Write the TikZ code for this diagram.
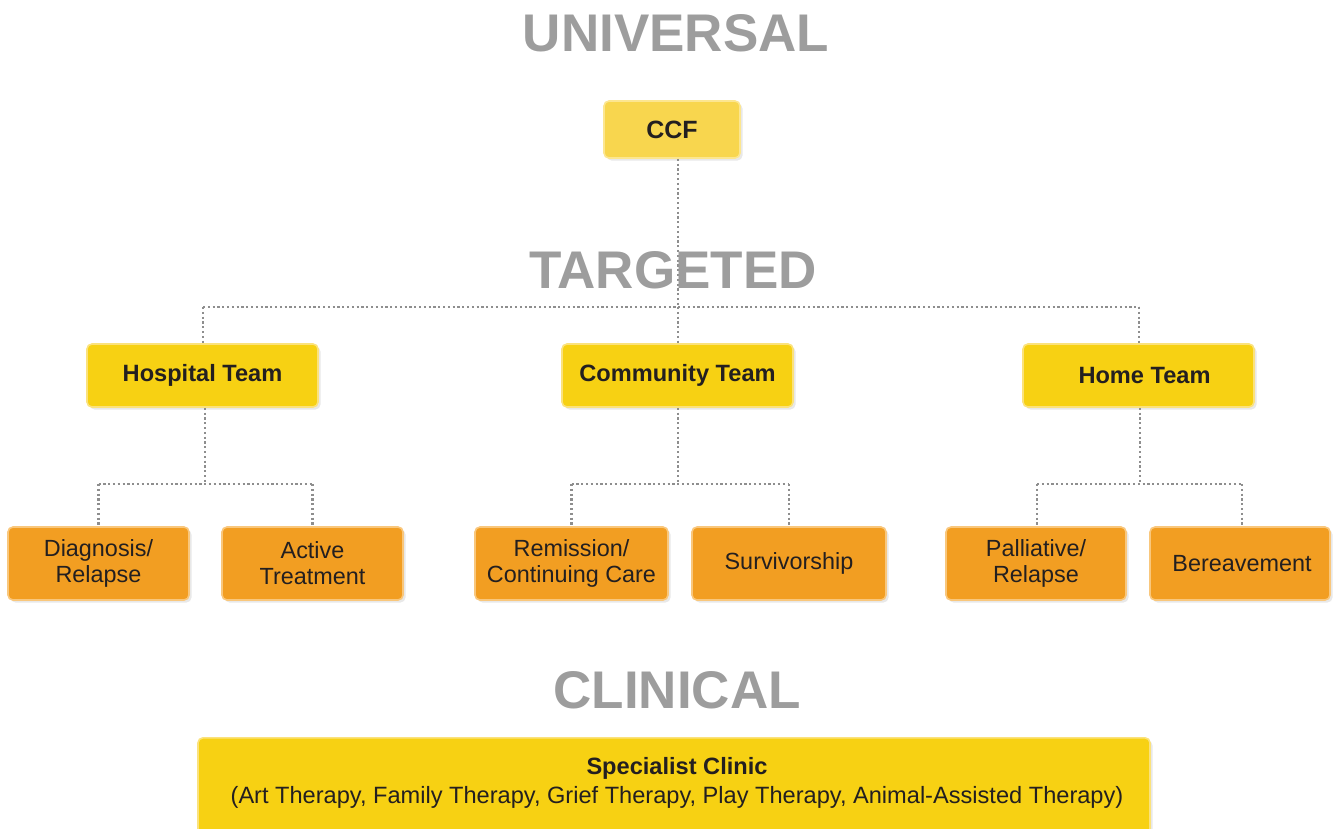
\documentclass[tikz,border=0pt]{standalone}
\usepackage{fontspec}
\setmainfont{Liberation Sans}
\usetikzlibrary{shadows}
\definecolor{headgray}{HTML}{9D9D9D}
\definecolor{ccffill}{HTML}{F8D64E}
\definecolor{ccfline}{HTML}{FCE690}
\definecolor{teamfill}{HTML}{F7D113}
\definecolor{teamline}{HTML}{FBE27C}
\definecolor{orfill}{HTML}{F29E22}
\definecolor{orline}{HTML}{F9C77C}
\definecolor{txt}{HTML}{231F20}
\definecolor{conn}{HTML}{8E8E8E}
\tikzset{
  heading/.style={text=headgray, font=\fontsize{53}{53}\selectfont\bfseries, inner sep=0},
  boxbase/.style={rounded corners=5pt, line width=1.6pt, text=txt, align=center, inner sep=0,
     drop shadow={opacity=0.18, shadow xshift=2.5pt, shadow yshift=-2.5pt}},
  ccfbox/.style={boxbase, fill=ccffill, draw=ccfline, minimum width=136, minimum height=57,
     font=\fontsize{25}{28}\selectfont\bfseries},
  teambox/.style={boxbase, fill=teamfill, draw=teamline, minimum width=231, minimum height=63,
     font=\fontsize{23.6}{26}\selectfont\bfseries},
  phasebox/.style={boxbase, fill=orfill, draw=orline, minimum height=73,
     font=\fontsize{23.4}{26}\selectfont},
  clinicbox/.style={boxbase, fill=teamfill, draw=teamline, minimum width=952, minimum height=110},
  cliniclabel/.style={text=txt, align=center, inner sep=0, font=\fontsize{23.6}{29}\selectfont},
  link/.style={draw=conn, line width=2.2pt, dash pattern=on 2.2pt off 2.6pt}
}
\begin{document}
\begin{tikzpicture}[x=1pt,y=-1pt]
\useasboundingbox (0,0) rectangle (1336,828);
% junction coordinates
\coordinate (jt) at (678,307);
\coordinate (jtl) at (203,307);
\coordinate (jtr) at (1139,307);
\coordinate (jh) at (205,484);
\coordinate (jc) at (678,484);
\coordinate (jm) at (1140,484);

\node[ccfbox] (ccf) at (672,129.5) {CCF};
\node[teambox] (hosp) at (202.5,375.5) {Hospital Team};
\node[teambox] (comm) at (677.5,375.5) {Community Team};
\node[teambox] (home) at (1138.5,375.5) {\hspace*{12pt}Home Team};
\node[phasebox, minimum width=181] (diag) at (98.5,563.5) {Diagnosis/\\Relapse};
\node[phasebox, minimum width=181] (act) at (312.5,563.5) {Active\\Treatment};
\node[phasebox, minimum width=193] (rem) at (571.5,563.5) {Remission/\\Continuing Care};
\node[phasebox, minimum width=194] (surv) at (789,563.5) {Survivorship};
\node[phasebox, minimum width=180] (pall) at (1036,563.5) {Palliative/\\Relapse};
\node[phasebox, minimum width=180] (ber) at (1240,563.5) {\hspace*{4pt}Bereavement};

\draw[link] (ccf.south -| jt) -- (jt);
\draw[link] (jtl) -- (jtr);
\draw[link] (jtl) -- (jtl |- hosp.north);
\draw[link] (jt) -- (jt |- comm.north);
\draw[link] (jtr) -- (jtr |- home.north);

\draw[link] (jh |- hosp.south) -- (jh);
\draw[link] (jh -| diag) -- (jh -| act);
\draw[link] (jh -| diag) -- (diag.north);
\draw[link] (jh -| act) -- (act.north);

\draw[link] (jc |- comm.south) -- (jc);
\draw[link] (jc -| rem) -- (jc -| surv);
\draw[link] (jc -| rem) -- (rem.north);
\draw[link] (jc -| surv) -- (surv.north);

\draw[link] (jm |- home.south) -- (jm);
\draw[link] (1037,484) coordinate (pl) -- (1242,484) coordinate (br);
\draw[link] (pl) -- (pl |- pall.north);
\draw[link] (br) -- (br |- ber.north);

\node[heading] (uni) at (676,33) {UNIVERSAL};
\node[heading] (tar) at (673,270) {TARGETED};
\node[heading] (cli) at (677,690) {CLINICAL};

\node[clinicbox, anchor=north] (clin) at (674,737) {};
\node[cliniclabel] (clint) at (677,783) {\textbf{Specialist Clinic}\\(Art Therapy, Family Therapy, Grief Therapy, Play Therapy, Animal-Assisted Therapy)};
\end{tikzpicture}
\end{document}
